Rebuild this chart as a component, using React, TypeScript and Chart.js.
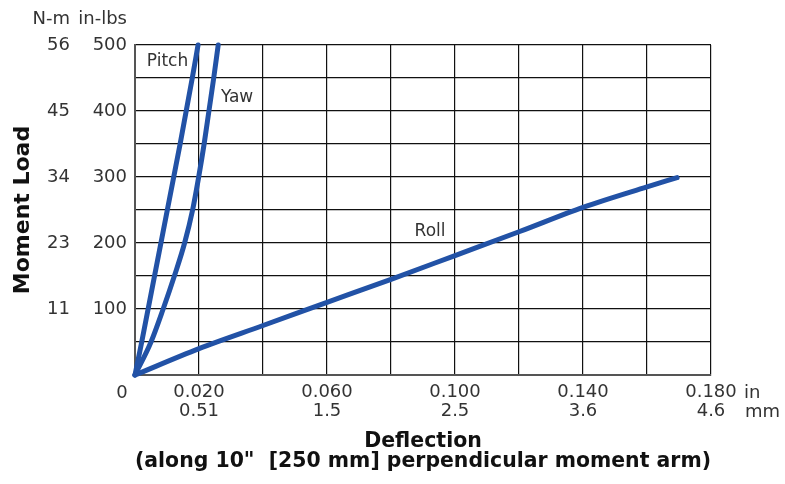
import React, { useEffect, useRef } from 'react';
import { Chart, registerables } from 'chart.js';

Chart.register(...registerables);

// ---- Data (deflection in inches, moment load in in-lbs) ----
const pitchDeflection = [0, 0.0021, 0.0041, 0.0061, 0.0081, 0.0101, 0.0121, 0.0141, 0.016, 0.0179, 0.0197];
const pitchLoad = [0, 50, 100, 150, 200, 250, 300, 350, 400, 450, 500];
const yawDeflection = [0, 0.005, 0.0088, 0.0123, 0.0155, 0.018, 0.0199, 0.0216, 0.0231, 0.0246, 0.026];
const yawLoad = [0, 50, 100, 150, 200, 250, 300, 350, 400, 450, 500];
const rollDeflection = [0, 0.02, 0.04, 0.06, 0.08, 0.1, 0.12, 0.14, 0.16, 0.1694];
const rollLoad = [0, 40, 75, 110, 145, 181, 217, 254, 285, 299];

// ---- Tick labels ----
const xInLabels = ['0.020', '0.060', '0.100', '0.140', '0.180'];
const xMmLabels = ['0.51', '1.5', '2.5', '3.6', '4.6'];
const yInLbsLabels = ['100', '200', '300', '400', '500'];
const yNmLabels = ['11', '23', '34', '45', '56'];
const headerNm = 'N-m';
const headerInLbs = 'in-lbs';
const unitIn = 'in';
const unitMm = 'mm';
const originLabel = '0';
const yTitle = 'Moment Load';
const xTitle = ['Deflection', '(along 10"  [250 mm] perpendicular moment arm)'];

// ---- Series labels ----
const seriesNames = ['Pitch', 'Yaw', 'Roll'];
const seriesLabelX = [0.01016, 0.0319, 0.0922];
const seriesLabelY = [474.7, 421, 218];

const FONT = '"DejaVu Sans", sans-serif';
const LINE_COLOR = '#2252a6';

const toPoints = (xs: number[], ys: number[]) => xs.map((x, i) => ({ x, y: ys[i] }));

const extraText = {
  id: 'extraText',
  afterDraw(chart: any) {
    const { ctx, chartArea, scales } = chart;
    const x = scales.x;
    const y = scales.y;
    const yNm = scales.yNm;
    const row1 = chartArea.bottom + 18;
    const row2 = chartArea.bottom + 37;
    ctx.save();
    ctx.fillStyle = '#333';
    ctx.textBaseline = 'middle';
    ctx.font = `18px ${FONT}`;
    ctx.textAlign = 'right';
    ctx.fillText(headerNm, yNm.right - 10, chartArea.top - 26);
    ctx.fillText(headerInLbs, y.right - 8, chartArea.top - 26);
    ctx.textAlign = 'center';
    ctx.fillText(originLabel, x.getPixelForValue(0) - 13, row1);
    ctx.textAlign = 'left';
    ctx.fillText(unitIn, x.getPixelForValue(0.18) + 33, row1);
    ctx.fillText(unitMm, x.getPixelForValue(0.18) + 34, row2);
    ctx.font = `17px ${FONT}`;
    ctx.textAlign = 'center';
    seriesNames.forEach((t, i) => {
      ctx.fillText(t, x.getPixelForValue(seriesLabelX[i]), y.getPixelForValue(seriesLabelY[i]));
    });
    ctx.restore();
  },
};

export default function App() {
  const canvasRef = useRef<HTMLCanvasElement | null>(null);

  useEffect(() => {
    if (!canvasRef.current) return;
    const lineStyle = {
      borderColor: LINE_COLOR,
      backgroundColor: LINE_COLOR,
      borderWidth: 5,
      pointRadius: 0,
      cubicInterpolationMode: 'monotone' as const,
      fill: false,
      showLine: true,
      clip: false as any,
      borderCapStyle: 'round' as const,
      borderJoinStyle: 'round' as const,
    };
    const chart = new Chart(canvasRef.current, {
      type: 'scatter',
      data: {
        datasets: [
          { label: 'Pitch', data: toPoints(pitchDeflection, pitchLoad), ...lineStyle },
          { label: 'Yaw', data: toPoints(yawDeflection, yawLoad), ...lineStyle },
          { label: 'Roll', data: toPoints(rollDeflection, rollLoad), ...lineStyle },
        ],
      },
      options: {
        animation: false,
        responsive: true,
        maintainAspectRatio: false,
        layout: { padding: { top: 45, right: 74, bottom: 0, left: 0 } },
        plugins: {
          legend: { display: false },
          tooltip: { enabled: false },
        },
        scales: {
          x: {
            type: 'linear',
            position: 'bottom',
            min: 0,
            max: 0.18,
            afterFit: (s: any) => {
              s.height = 109;
            },
            ticks: {
              stepSize: 0.02,
              autoSkip: false,
              maxRotation: 0,
              padding: 8,
              color: '#333',
              font: { family: FONT, size: 18, lineHeight: 1.05 },
              callback: (_v: any, index: number) =>
                index % 2 === 1 ? [xInLabels[(index - 1) / 2], xMmLabels[(index - 1) / 2]] : '',
            },
            grid: { color: '#111', lineWidth: 1.2, drawTicks: false },
            border: { color: '#555', width: 2 },
            title: {
              display: true,
              text: xTitle,
              color: '#111',
              font: { family: FONT, size: 20.5, weight: 'bold', lineHeight: 1.0 },
              padding: { top: 0, bottom: 12 },
            },
          },
          y: {
            type: 'linear',
            position: 'left',
            weight: 0,
            min: 0,
            max: 500,
            afterFit: (s: any) => {
              s.width = 55;
            },
            ticks: {
              stepSize: 50,
              autoSkip: false,
              padding: 8,
              color: '#333',
              font: { family: FONT, size: 18 },
              callback: (_v: any, index: number) =>
                index % 2 === 0 && index > 0 ? yInLbsLabels[index / 2 - 1] : '',
            },
            grid: { color: '#111', lineWidth: 1.2, drawTicks: false },
            border: { color: '#555', width: 2 },
          },
          yNm: {
            type: 'linear',
            position: 'left',
            weight: 1,
            min: 0,
            max: 500,
            afterFit: (s: any) => {
              s.width = 80;
            },
            ticks: {
              stepSize: 50,
              autoSkip: false,
              padding: 10,
              color: '#333',
              font: { family: FONT, size: 18 },
              callback: (_v: any, index: number) =>
                index % 2 === 0 && index > 0 ? yNmLabels[index / 2 - 1] : '',
            },
            grid: { display: false, drawTicks: false },
            border: { display: false },
            title: {
              display: true,
              text: yTitle,
              color: '#111',
              font: { family: FONT, size: 22, weight: 'bold' },
              padding: { top: 10, bottom: 0 },
            },
          },
        },
      },
      plugins: [extraText],
    } as any);
    return () => chart.destroy();
  }, []);

  return (
    <div style={{ position: 'absolute', left: 0, top: 0, width: 785, height: 484, background: '#fff' }}>
      <canvas ref={canvasRef} />
    </div>
  );
}
